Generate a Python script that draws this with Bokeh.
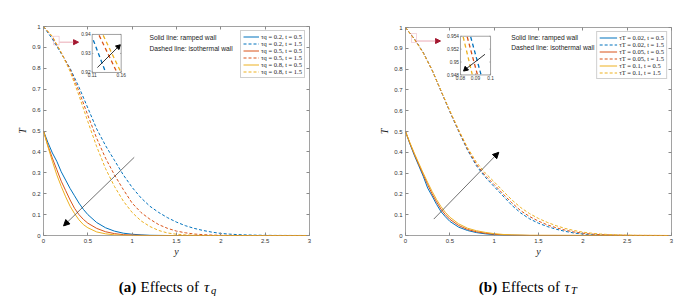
import numpy as np
from bokeh.plotting import figure
from bokeh.layouts import row, column
from bokeh.models import (Range1d, FixedTicker, LinearAxis, Legend, LegendItem,
                          Label, Arrow, NormalHead, BoxAnnotation)
from bokeh.embed import file_html
from bokeh.resources import INLINE
from bokeh.core.properties import value

# ---------------- shared axes ----------------
x_ticks = [0, 0.5, 1, 1.5, 2, 2.5, 3]
x_tick_labels = ["0", "0.5", "1", "1.5", "2", "2.5", "3"]
y_ticks = [0, 0.1, 0.2, 0.3, 0.4, 0.5, 0.6, 0.7, 0.8, 0.9, 1]
y_tick_labels = ["0", "0.1", "0.2", "0.3", "0.4", "0.5", "0.6", "0.7", "0.8", "0.9", "1"]

# ---------------- panel (a): effects of tau_q ----------------
y_solid = [0, 0.05, 0.1, 0.15, 0.2, 0.25, 0.3, 0.35, 0.4, 0.45, 0.5, 0.6, 0.7, 0.8, 0.9, 1.0, 1.1, 1.2, 1.4, 3.0]
y_dash = [0, 0.1, 0.2, 0.3, 0.4, 0.5, 0.6, 0.7, 0.8, 0.9, 1.0, 1.1, 1.2, 1.3, 1.4, 1.5, 1.6,
          1.7, 1.8, 1.9, 2.0, 2.1, 2.2, 2.3, 2.4, 2.5, 2.6, 3.0]

Ta_q02_t05 = [0.5, 0.445, 0.395, 0.355, 0.305, 0.265, 0.225, 0.19, 0.155, 0.125, 0.10, 0.062, 0.037, 0.021, 0.011, 0.006, 0.003, 0.001, 0.0, 0.0]
Ta_q05_t05 = [0.5, 0.43, 0.37, 0.315, 0.26, 0.215, 0.17, 0.13, 0.10, 0.077, 0.059, 0.034, 0.018, 0.009, 0.004, 0.002, 0.001, 0.0, 0.0, 0.0]
Ta_q08_t05 = [0.5, 0.425, 0.355, 0.29, 0.235, 0.185, 0.14, 0.105, 0.075, 0.052, 0.037, 0.017, 0.008, 0.003, 0.001, 0.0, 0.0, 0.0, 0.0, 0.0]
Ta_q02_t15 = [1.0, 0.94, 0.87, 0.80, 0.71, 0.61, 0.51, 0.43, 0.36, 0.29, 0.23, 0.18, 0.14, 0.11, 0.085, 0.064, 0.047,
              0.034, 0.024, 0.016, 0.010, 0.0065, 0.004, 0.0025, 0.0015, 0.001, 0.0005, 0.0]
Ta_q05_t15 = [1.0, 0.95, 0.875, 0.795, 0.69, 0.575, 0.465, 0.37, 0.29, 0.22, 0.155, 0.11, 0.078, 0.052, 0.034, 0.021, 0.013,
              0.007, 0.004, 0.002, 0.001, 0.0005, 0.0, 0.0, 0.0, 0.0, 0.0, 0.0]
Ta_q08_t15 = [1.0, 0.953, 0.875, 0.785, 0.67, 0.545, 0.425, 0.32, 0.235, 0.165, 0.11, 0.07, 0.043, 0.024, 0.012, 0.006, 0.003,
              0.0015, 0.0005, 0.0, 0.0, 0.0, 0.0, 0.0, 0.0, 0.0, 0.0, 0.0]
legend_a = ["τq = 0.2, t = 0.5", "τq = 0.2, t = 1.5", "τq = 0.5, t = 0.5",
            "τq = 0.5, t = 1.5", "τq = 0.8, t = 0.5", "τq = 0.8, t = 1.5"]

inset_a_xrange = [0.11, 0.16]
inset_a_yrange = [0.92, 0.94]
inset_a_xticks = [0.11, 0.16]
inset_a_xtick_labels = ["0.11", "0.16"]
inset_a_yticks = [0.92, 0.93, 0.94]
inset_a_ytick_labels = ["0.92", "0.93", "0.94"]
inset_a_y = {"blue": [0.112, 0.132], "red": [0.122, 0.152], "yel": [0.129, 0.159]}
inset_a_T = {"blue": [0.937, 0.921], "red": [0.9395, 0.9205], "yel": [0.9395, 0.9205]}

# ---------------- panel (b): effects of tau_T ----------------
Tb_T002_t05 = [0.5, 0.44, 0.385, 0.335, 0.285, 0.228, 0.19, 0.15, 0.115, 0.09, 0.068, 0.04, 0.024, 0.014, 0.008, 0.004, 0.002, 0.001, 0.0, 0.0]
Tb_T005_t05 = [0.5, 0.443, 0.39, 0.341, 0.293, 0.245, 0.2, 0.162, 0.127, 0.1, 0.078, 0.048, 0.029, 0.018, 0.011, 0.006, 0.003, 0.0015, 0.0003, 0.0]
Tb_T01_t05 = [0.5, 0.446, 0.395, 0.347, 0.3, 0.255, 0.212, 0.173, 0.139, 0.111, 0.088, 0.056, 0.035, 0.023, 0.015, 0.009, 0.005, 0.003, 0.001, 0.0]
Tb_T002_t15 = [1.0, 0.946, 0.88, 0.795, 0.695, 0.595, 0.50, 0.41, 0.335, 0.28, 0.235, 0.19, 0.145, 0.108, 0.08, 0.059, 0.043,
               0.03, 0.02, 0.012, 0.007, 0.004, 0.002, 0.001, 0.0005, 0.0002, 0.0, 0.0]
Tb_T005_t15 = [1.0, 0.945, 0.879, 0.795, 0.695, 0.597, 0.503, 0.415, 0.342, 0.288, 0.245, 0.2, 0.157, 0.119, 0.091, 0.069, 0.051,
               0.037, 0.026, 0.017, 0.011, 0.007, 0.004, 0.0025, 0.0015, 0.0008, 0.0004, 0.0]
Tb_T01_t15 = [1.0, 0.943, 0.877, 0.795, 0.697, 0.6, 0.508, 0.422, 0.352, 0.3, 0.258, 0.214, 0.171, 0.134, 0.105, 0.082, 0.063,
              0.047, 0.034, 0.024, 0.016, 0.011, 0.007, 0.0045, 0.003, 0.0018, 0.001, 0.0]
legend_b = ["τT = 0.02, t = 0.5", "τT = 0.02, t = 1.5", "τT = 0.05, t = 0.5",
            "τT = 0.05, t = 1.5", "τT = 0.1, t = 0.5", "τT = 0.1, t = 1.5"]

inset_b_xrange = [0.08, 0.1]
inset_b_yrange = [0.948, 0.954]
inset_b_xticks = [0.08, 0.09, 0.1]
inset_b_xtick_labels = ["0.08", "0.09", "0.1"]
inset_b_yticks = [0.948, 0.95, 0.952, 0.954]
inset_b_ytick_labels = ["0.948", "0.95", "0.952", "0.954"]
inset_b_y = {"blue": [0.0868, 0.0936], "red": [0.0845, 0.0912], "yel": [0.0818, 0.0878]}
inset_b_T = {"blue": [0.9539, 0.9481], "red": [0.9539, 0.9481], "yel": [0.9539, 0.9481]}

captions = [("(a)", "Effects of", "τ", "q"), ("(b)", "Effects of", "τ", "T")]

BLUE, RED, YEL = "#0072BD", "#D95319", "#EDB120"
FRAME = "#8a8a8a"
SANS = "Liberation Sans"
SERIF = "Liberation Serif"
W, H, HCAP = 345, 265, 36


def make_panel(left, right, top, bottom, solids, dashes, labels, glyph_w,
               ins_xr, ins_yr, ins_target, ins_xt, ins_xtl, ins_yt, ins_ytl, ins_y, ins_T):
    p = figure(width=W, height=H, x_range=Range1d(0, 3), y_range=Range1d(0, 1),
               output_backend="svg", toolbar_location=None,
               min_border_left=left, min_border_right=right,
               min_border_top=top, min_border_bottom=bottom)
    p.grid.visible = False
    p.outline_line_color = FRAME
    p.outline_line_width = 0.8
    p.background_fill_color = "white"
    p.border_fill_color = "white"

    for ax in (p.xaxis[0], p.yaxis[0]):
        ax.axis_line_color = None
        ax.major_tick_line_color = FRAME
        ax.major_tick_in = 3
        ax.major_tick_out = 0
        ax.minor_tick_line_color = None
        ax.major_label_text_font = SANS
        ax.major_label_text_font_size = "6px"
        ax.major_label_text_color = "#333333"
        ax.major_label_standoff = 3
        ax.axis_label_text_font = SERIF
        ax.axis_label_text_font_style = "italic"
        ax.axis_label_text_font_size = "10px"
        ax.axis_label_text_color = "#222222"
    p.xaxis.ticker = FixedTicker(ticks=x_ticks)
    p.xaxis.major_label_overrides = dict(zip(x_ticks, x_tick_labels))
    p.yaxis.ticker = FixedTicker(ticks=y_ticks)
    p.yaxis.major_label_overrides = dict(zip(y_ticks, y_tick_labels))
    p.xaxis.axis_label = "y"
    p.xaxis.axis_label_standoff = 0
    p.yaxis.axis_label = "T"
    p.yaxis.axis_label_standoff = 1

    for side, ticks in (("right", y_ticks), ("above", x_ticks)):
        ax = LinearAxis(ticker=FixedTicker(ticks=ticks), axis_line_color=None,
                        major_tick_line_color=FRAME, major_tick_in=3, major_tick_out=0,
                        minor_tick_line_color=None, major_label_text_color=None,
                        major_label_text_font_size="1px", major_label_standoff=0)
        p.add_layout(ax, side)

    items = []
    cols = [BLUE, RED, YEL]
    for i in range(3):
        ys, Ts = solids[i]
        yd, Td = dashes[i]
        r1 = p.line(ys, Ts, line_color=cols[i], line_width=1.0)
        r2 = p.line(yd, Td, line_color=cols[i], line_width=1.0, line_dash="3 2")
        items.append(LegendItem(label=labels[2 * i], renderers=[r1]))
        items.append(LegendItem(label=labels[2 * i + 1], renderers=[r2]))
    leg = Legend(items=items, location="top_right", margin=4, padding=2, spacing=0,
                 label_height=7, glyph_height=7, glyph_width=glyph_w, label_standoff=2,
                 label_text_font=SERIF, label_text_font_size="6.5px", label_text_color="#222222",
                 border_line_color="#a0a0a0", border_line_width=0.8,
                 background_fill_color="white", background_fill_alpha=1.0)
    p.add_layout(leg)

    # inset (a zoomed view drawn through its own coordinate mapping)
    tx0, tx1, ty0, ty1 = ins_target
    sub = p.subplot(x_source=Range1d(*ins_xr), y_source=Range1d(*ins_yr),
                    x_target=Range1d(tx0, tx1), y_target=Range1d(ty0, ty1))
    sub.quad(left=[ins_xr[0]], right=[ins_xr[1]], bottom=[ins_yr[0]], top=[ins_yr[1]],
             fill_color="white", line_color=FRAME, line_width=0.8)
    dx = (ins_xr[1] - ins_xr[0]) * 0.04
    dy = (ins_yr[1] - ins_yr[0]) * 0.04
    sub.segment(x0=[ins_xr[0]] * len(ins_yt), y0=ins_yt, x1=[ins_xr[0] + dx] * len(ins_yt), y1=ins_yt,
                line_color=FRAME, line_width=0.7)
    sub.segment(x0=[ins_xr[1]] * len(ins_yt), y0=ins_yt, x1=[ins_xr[1] - dx] * len(ins_yt), y1=ins_yt,
                line_color=FRAME, line_width=0.7)
    sub.segment(x0=ins_xt, y0=[ins_yr[0]] * len(ins_xt), x1=ins_xt, y1=[ins_yr[0] + dy] * len(ins_xt),
                line_color=FRAME, line_width=0.7)
    sub.text(x=[ins_xr[0]] * len(ins_yt), y=ins_yt, text=ins_ytl, x_offset=-1.5,
             text_align="right", text_baseline="middle", text_font=value(SANS),
             text_font_size="4.8px", text_color="#333333")
    sub.text(x=ins_xt, y=[ins_yr[0]] * len(ins_xt), text=ins_xtl, y_offset=1,
             text_align="center", text_baseline="top", text_font=value(SANS),
             text_font_size="4.8px", text_color="#333333")
    for key, c in (("blue", BLUE), ("red", RED), ("yel", YEL)):
        sub.line(ins_y[key], ins_T[key], line_color=c, line_width=1.3, line_dash="4 3")
    return p, sub


LA, RA, LB, RB = 43, 36, 60, 19
pa, suba = make_panel(LA, RA, 26, 30,
                      [(y_solid, Ta_q02_t05), (y_solid, Ta_q05_t05), (y_solid, Ta_q08_t05)],
                      [(y_dash, Ta_q02_t15), (y_dash, Ta_q05_t15), (y_dash, Ta_q08_t15)],
                      legend_a, 16,
                      inset_a_xrange, inset_a_yrange, (0.549, 0.876, 0.780, 0.962),
                      inset_a_xticks, inset_a_xtick_labels, inset_a_yticks, inset_a_ytick_labels,
                      inset_a_y, inset_a_T)

pb, subb = make_panel(LB, RB, 27, 30,
                      [(y_solid, Tb_T002_t05), (y_solid, Tb_T005_t05), (y_solid, Tb_T01_t05)],
                      [(y_dash, Tb_T002_t15), (y_dash, Tb_T005_t15), (y_dash, Tb_T01_t15)],
                      legend_b, 18,
                      inset_b_xrange, inset_b_yrange, (0.620, 0.959, 0.772, 0.958),
                      inset_b_xticks, inset_b_xtick_labels, inset_b_yticks, inset_b_ytick_labels,
                      inset_b_y, inset_b_T)

# inset arrows (in inset coordinates)
suba.segment(x0=[0.119], y0=[0.9226], x1=[0.155], y1=[0.9335], line_color="black", line_width=0.8)
suba.scatter(x=[0.155], y=[0.9335], marker="triangle", size=5, angle=-np.pi / 4,
             fill_color="black", line_color="black")
subb.segment(x0=[0.0963], y0=[0.9512], x1=[0.0835], y1=[0.9489], line_color="black", line_width=0.8)
subb.scatter(x=[0.0835], y=[0.9489], marker="triangle", size=5, angle=np.radians(132),
             fill_color="black", line_color="black")

# main arrows, zoom boxes, notes
for p, (xs, ys, xe, ye), box, (zx0, zx1, zy) in (
        (pa, (1.023, 0.374, 0.226, 0.046), (0.113, 0.177, 0.912, 0.953), (0.18, 0.395, 0.925)),
        (pb, (0.319, 0.079, 1.052, 0.400), (0.068, 0.124, 0.928, 0.971), (0.124, 0.395, 0.935))):
    p.add_layout(Arrow(x_start=xs, y_start=ys, x_end=xe, y_end=ye, line_color="#333333",
                       line_width=0.7, end=NormalHead(size=6, fill_color="black", line_color="black")))
    p.add_layout(BoxAnnotation(left=box[0], right=box[1], bottom=box[2], top=box[3],
                               fill_color=None, line_color="#d0506a", line_width=0.8))
    p.add_layout(Arrow(x_start=zx0, y_start=zy, x_end=zx1, y_end=zy, line_color="#e8a0ac",
                       line_width=0.9, end=NormalHead(size=5, fill_color="#a3162f", line_color="#a3162f")))

for p, x, t1, t2 in ((pa, 1.195, 0.946, 0.896), (pb, 1.192, 0.952, 0.902)):
    p.add_layout(Label(x=x, y=t1, text="Solid line: ramped wall", text_font=SANS,
                       text_font_size="6.7px", text_color="#222222", text_baseline="middle"))
    p.add_layout(Label(x=x, y=t2, text="Dashed line: isothermal wall", text_font=SANS,
                       text_font_size="6.7px", text_color="#222222", text_baseline="middle"))


# captions: small figures under each panel with the same borders (frames align in a column);
# their ranges are in panel pixels, y pointing down
def make_caption(parts, xs, left, right):
    c = figure(width=W, height=HCAP, x_range=Range1d(left, W - right), y_range=Range1d(HCAP, 0),
               output_backend="svg", toolbar_location=None, x_axis_type=None, y_axis_type=None,
               min_border_left=left, min_border_right=right, min_border_top=0, min_border_bottom=0)
    c.outline_line_color = None
    c.grid.visible = False
    lab, eff, tau, subs = parts
    c.text(x=[xs[0]], y=[21], text=[lab], text_font=value(SERIF), text_font_style="bold",
           text_font_size="15px", text_baseline="middle", text_color="black")
    c.text(x=[xs[1]], y=[21], text=[eff], text_font=value(SERIF),
           text_font_size="15px", text_baseline="middle", text_color="black")
    c.text(x=[xs[2]], y=[21], text=[tau], text_font=value(SERIF), text_font_style="italic",
           text_font_size="15px", text_baseline="middle", text_color="black")
    c.text(x=[xs[3]], y=[25], text=[subs], text_font=value(SERIF), text_font_style="italic",
           text_font_size="10.5px", text_baseline="middle", text_color="black")
    return c


ca = make_caption(captions[0], (118.3, 140, 203.5, 210.5), LA, RA)
cb = make_caption(captions[1], (133.3, 156, 219, 225.5), LB, RB)

layout = row(column(pa, ca, spacing=0), column(pb, cb, spacing=0), spacing=0)
open("out.html", "w").write(file_html(layout, INLINE))
